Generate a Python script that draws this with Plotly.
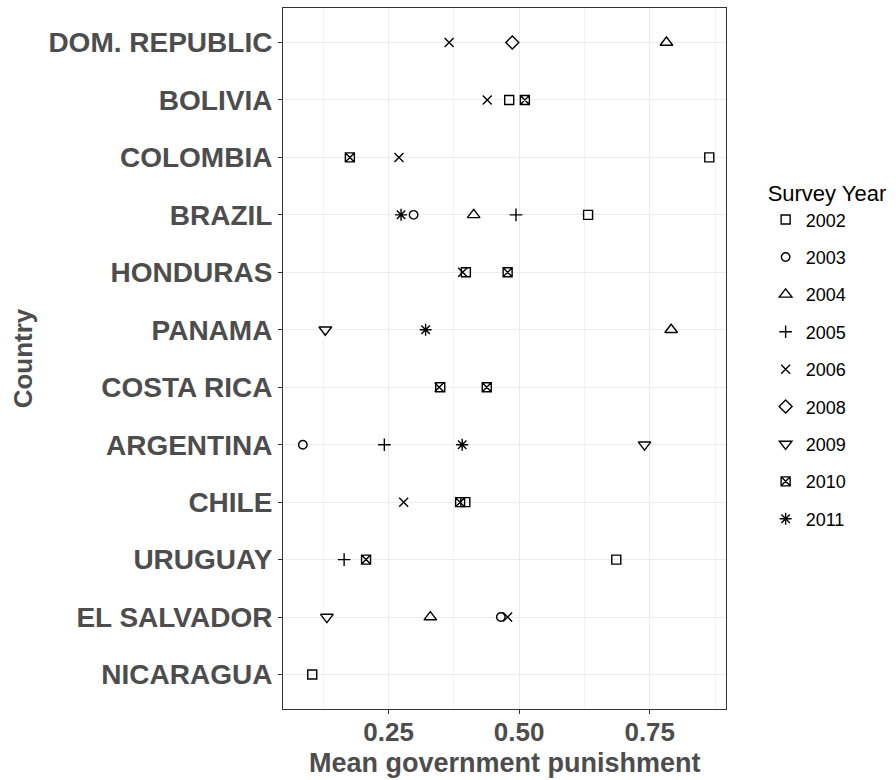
import plotly.graph_objects as go

# Countries, listed top to bottom
countries = ["DOM. REPUBLIC", "BOLIVIA", "COLOMBIA", "BRAZIL", "HONDURAS", "PANAMA",
             "COSTA RICA", "ARGENTINA", "CHILE", "URUGUAY", "EL SALVADOR", "NICARAGUA"]

# Mean government punishment per survey year (None = not surveyed)
y2002 = [None, 0.481, 0.864, 0.632, 0.398, None, 0.349, None, 0.397, 0.686, None, 0.104]
y2003 = [None, None, None, 0.298, None, None, None, 0.086, None, None, 0.465, None]
y2004 = [0.782, None, None, 0.413, None, 0.791, None, None, None, None, 0.330, None]
y2005 = [None, None, None, 0.494, None, None, None, 0.242, None, 0.165, None, None]
y2006 = [0.366, 0.439, 0.270, None, 0.392, None, 0.347, None, 0.279, None, 0.478, None]
y2008 = [0.487, None, None, None, None, None, None, None, None, None, None, None]
y2009 = [None, None, None, None, None, 0.129, None, 0.740, None, None, 0.132, None]
y2010 = [None, 0.511, 0.176, None, 0.478, None, 0.438, None, 0.387, 0.207, None, None]
y2011 = [None, None, None, 0.274, None, 0.321, None, 0.391, None, None, None, None]

years = ["2002", "2003", "2004", "2005", "2006", "2008", "2009", "2010", "2011"]
series = [y2002, y2003, y2004, y2005, y2006, y2008, y2009, y2010, y2011]

x_ticks = [0.25, 0.50, 0.75]
x_tick_text = ["0.25", "0.50", "0.75"]

symbols = {
    "2002": ("square-open", 9),
    "2003": ("circle-open", 8.5),
    "2004": ("triangle-up-open", 11),
    "2005": ("cross-thin-open", 9),
    "2006": ("x-thin-open", 9),
    "2008": ("diamond-open", 10),
    "2009": ("triangle-down-open", 11),
    "2010": ("square-x-open", 9),
    "2011": ("asterisk-open", 10),
}

fig = go.Figure()
for yr, vals in zip(years, series):
    xs = [v for v in vals if v is not None]
    ys = [c for c, v in zip(countries, vals) if v is not None]
    sym, sz = symbols[yr]
    fig.add_trace(go.Scatter(
        x=xs, y=ys, mode="markers", name=yr, legendgroup=yr,
        marker=dict(symbol=sym, size=sz, color="black",
                    line=dict(color="black", width=1.4)),
    ))

grey30 = "#4D4D4D"
base_font = "Liberation Sans, Arial, sans-serif"
fig.update_layout(
    width=896, height=780,
    margin=dict(l=283, r=169, t=8, b=71),
    paper_bgcolor="white", plot_bgcolor="white",
    font=dict(family=base_font, color="black"),
    legend=dict(
        title=dict(text="Survey Year", font=dict(size=22, color="black")),
        font=dict(size=18, color="black"),
        x=1.087, xanchor="left", y=0.765, yanchor="top",
        traceorder="grouped", tracegroupgap=11,
        bgcolor="rgba(0,0,0,0)",
    ),
    showlegend=True,
)
fig.update_xaxes(
    range=[0.048, 0.896],
    tickvals=x_ticks, ticktext=x_tick_text,
    tickfont=dict(size=26, color=grey30, family=base_font, weight="bold"),
    ticks="outside", ticklen=4, tickcolor="#333333", tickwidth=1,
    ticklabelstandoff=-4,
    showgrid=True, gridcolor="#EBEBEB", gridwidth=1.1,
    minor=dict(tickvals=[0.125, 0.375, 0.625, 0.875], showgrid=True,
               gridcolor="#F2F2F2", gridwidth=0.6, ticks=""),
    showline=True, linecolor="#333333", linewidth=1, mirror=True,
    zeroline=False,
)
fig.update_yaxes(
    categoryorder="array", categoryarray=countries,
    range=[len(countries) - 0.4, -0.6],
    tickfont=dict(size=28, color=grey30, family=base_font, weight="bold"),
    ticks="outside", ticklen=4, tickcolor="#333333", tickwidth=1,
    showgrid=True, gridcolor="#EBEBEB", gridwidth=1.1,
    showline=True, linecolor="#333333", linewidth=1, mirror=True,
    zeroline=False,
    title=dict(text="<b>Country</b>", standoff=8,
               font=dict(size=26, color=grey30)),
)

# x-axis title placed just under the tick labels
fig.add_annotation(
    text="<b>Mean government punishment</b>",
    xref="paper", yref="paper", x=0.5, y=-0.0765,
    xanchor="center", yanchor="middle", showarrow=False,
    font=dict(size=27, color=grey30, family=base_font),
)

fig.write_html("out.html")
